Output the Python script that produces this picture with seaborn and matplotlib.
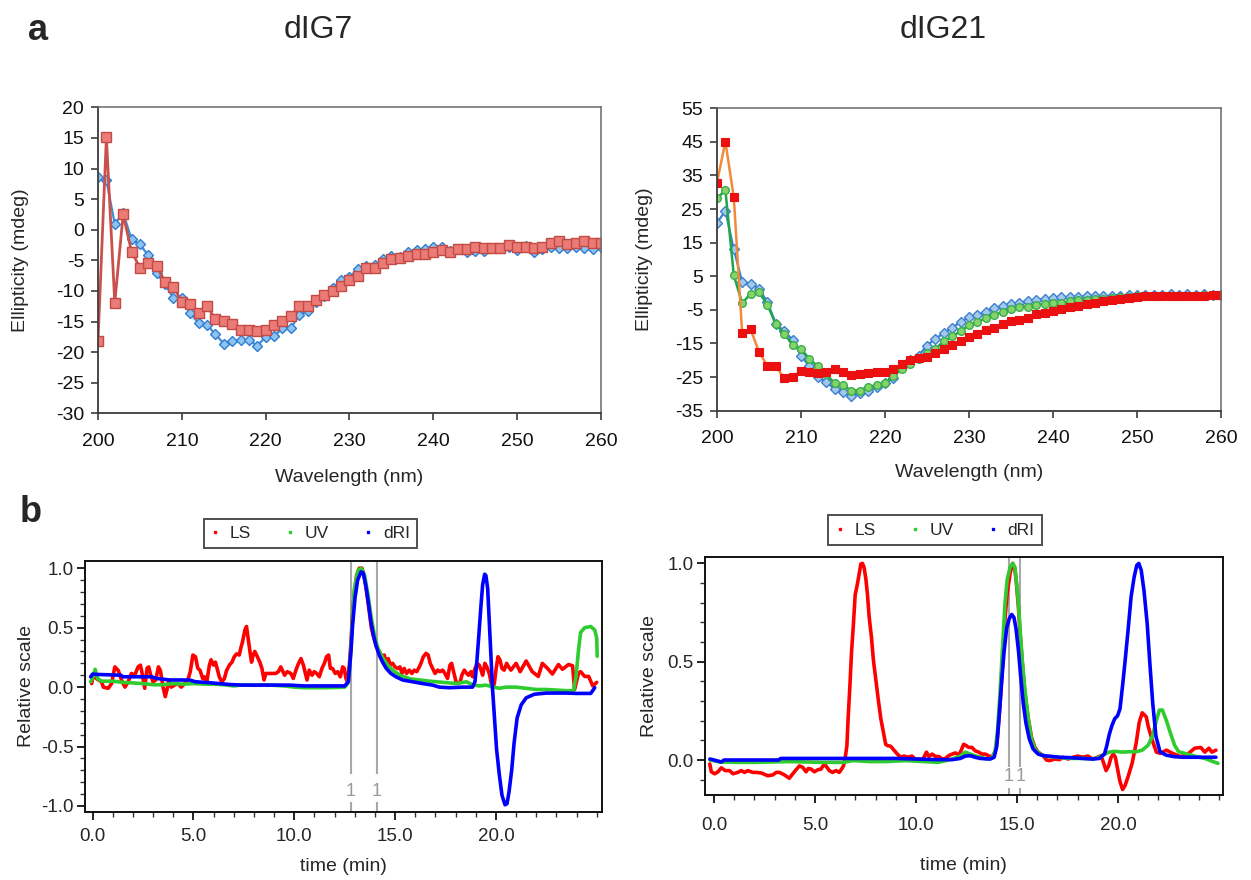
import numpy as np
import pandas as pd
import matplotlib
matplotlib.use("Agg")
import matplotlib.pyplot as plt
from matplotlib.lines import Line2D
from matplotlib.ticker import MultipleLocator, FixedLocator, FormatStrFormatter
import seaborn as sns

sns.set_style("ticks")
plt.rcParams["font.family"] = ["Liberation Sans", "DejaVu Sans"]
plt.rcParams["axes.unicode_minus"] = False
NARROW = ["Liberation Sans Narrow", "Liberation Sans", "DejaVu Sans"]

# ---------------- CD spectra ----------------
wavelength = list(range(200, 261))

dig7_a = [-18.2, 15.1, -11.9, 2.5, -3.6, -6.2, -5.4, -6.0, -8.5, -9.3,
          -11.8, -12.2, -13.6, -12.5, -14.6, -14.9, -15.4, -16.4, -16.4, -16.5,
          -16.4, -15.5, -14.9, -14.1, -12.5, -12.5, -11.5, -10.7, -10.0, -9.2,
          -8.2, -7.6, -6.2, -6.3, -5.5, -4.8, -4.7, -4.3, -4.0, -4.0,
          -3.7, -3.3, -3.6, -3.2, -3.2, -2.8, -3.0, -3.0, -3.0, -2.5,
          -2.8, -2.8, -3.0, -2.8, -2.1, -1.8, -2.4, -2.1, -1.8, -2.1, -2.1]
dig7_b = [8.6, 8.1, 0.9, 2.8, -1.6, -2.4, -4.2, -7.1, -8.9, -11.2,
          -11.1, -13.6, -15.3, -15.5, -17.1, -18.6, -18.2, -18.0, -18.0, -19.0,
          -17.5, -17.4, -16.1, -16.1, -13.9, -13.3, -11.8, -10.9, -9.6, -8.2,
          -7.7, -6.5, -5.9, -5.8, -4.8, -4.3, -4.4, -3.7, -3.3, -3.2,
          -2.9, -2.8, -3.4, -3.2, -3.6, -3.5, -3.4, -3.0, -3.0, -2.8,
          -3.3, -2.7, -3.6, -3.2, -2.8, -3.0, -3.0, -2.9, -3.0, -3.2, -2.8]

dig21_a = [32.9, 45.1, 28.5, -12.0, -10.8, -17.5, -21.7, -21.7, -25.4, -24.9,
           -23.1, -23.4, -23.9, -23.5, -22.6, -23.5, -24.3, -24.2, -23.7, -23.5,
           -23.5, -22.6, -21.2, -19.8, -19.3, -19.1, -17.9, -16.5, -15.4, -14.2,
           -13.2, -12.3, -11.0, -10.3, -9.3, -8.3, -8.0, -7.5, -6.3, -6.0,
           -5.2, -4.8, -4.2, -3.8, -3.2, -2.8, -2.3, -2.0, -1.8, -1.5,
           -1.3, -1.0, -1.0, -0.9, -0.9, -0.8, -0.8, -0.8, -0.8, -0.7, -0.7]
dig21_b = [20.9, 24.5, 13.0, 3.3, 2.8, 1.3, -2.7, -9.1, -11.3, -13.9,
           -18.6, -21.8, -25.0, -26.5, -28.5, -29.5, -30.5, -29.8, -29.0, -28.0,
           -26.8, -25.2, -22.0, -20.0, -18.6, -15.6, -13.6, -11.9, -10.3, -8.6,
           -7.2, -6.5, -5.5, -4.5, -3.8, -3.2, -2.8, -2.5, -2.0, -1.7,
           -1.5, -1.3, -1.2, -1.1, -1.0, -0.9, -0.9, -0.8, -0.8, -0.7,
           -0.7, -0.6, -0.6, -0.5, -0.3, -0.5, -0.4, -0.6, -0.4, -0.5, -0.5]
dig21_c = [28.2, 30.6, 5.3, -3.0, -0.2, 0.2, -3.4, -9.3, -12.1, -15.3,
           -16.6, -19.6, -21.8, -24.2, -26.8, -27.5, -29.0, -29.0, -27.8, -27.5,
           -26.8, -24.8, -22.5, -21.0, -19.6, -17.9, -16.6, -14.3, -12.9, -11.3,
           -9.5, -8.5, -7.5, -6.5, -5.7, -4.8, -4.2, -4.0, -3.5, -3.2,
           -3.0, -2.8, -2.5, -2.2, -2.0, -1.8, -1.7, -1.5, -1.3, -1.2,
           -1.0, -1.0, -0.9, -0.9, -0.8, -0.8, -0.8, -0.8, -0.7, -0.7, -0.7]

# ---------------- SEC-MALS traces: dIG7 ----------------
dig7_ls_t = [-0.05, 0.03, 0.20, 0.44, 0.53, 0.77, 0.94, 1.10, 1.27, 1.43,
             1.60, 1.76, 1.92, 2.09, 2.25, 2.37, 2.47, 2.58, 2.70, 2.78,
             2.88, 2.99, 3.13, 3.26, 3.36, 3.49, 3.60, 3.70, 3.78, 3.90,
             4.06, 4.23, 4.39, 4.56, 4.72, 4.84, 4.97, 5.10, 5.21, 5.33,
             5.46, 5.54, 5.66, 5.79, 5.87, 5.99, 6.09, 6.20, 6.28, 6.40,
             6.53, 6.64, 6.78, 6.91, 7.02, 7.14, 7.27, 7.35, 7.43, 7.55,
             7.63, 7.71, 7.80, 7.88, 7.96, 8.04, 8.17, 8.29, 8.39, 8.50,
             8.59, 8.72, 8.83, 8.95, 9.08, 9.21, 9.33, 9.41, 9.52, 9.65,
             9.83, 9.95, 10.08, 10.21, 10.33, 10.45, 10.55, 10.63, 10.74, 10.88,
             10.99, 11.11, 11.24, 11.37, 11.49, 11.60, 11.70, 11.79, 11.90, 12.03,
             12.15, 12.28, 12.40, 12.48, 12.56, 12.64, 12.73, 12.81, 12.89, 12.98,
             13.09, 13.22, 13.36, 13.47, 13.59, 13.72, 13.83, 13.97, 14.08, 14.21,
             14.35, 14.46, 14.55, 14.66, 14.76, 14.88, 14.99, 15.12, 15.24, 15.34,
             15.45, 15.57, 15.70, 15.83, 15.95, 16.07, 16.20, 16.28, 16.40, 16.53,
             16.64, 16.74, 16.86, 16.98, 17.11, 17.22, 17.36, 17.47, 17.60, 17.72,
             17.80, 17.90, 18.02, 18.13, 18.23, 18.31, 18.43, 18.55, 18.64, 18.76,
             18.84, 18.96, 19.07, 19.17, 19.26, 19.34, 19.45, 19.55, 19.67, 19.75,
             19.83, 19.92, 20.00, 20.10, 20.20, 20.30, 20.41, 20.53, 20.63, 20.74,
             21.0, 21.2, 21.5, 21.8, 22.1, 22.3, 22.6, 22.8, 23.1, 23.3,
             23.6, 23.8, 23.9, 24.1, 24.2, 24.4, 24.6, 24.8, 25.0]
dig7_ls = [0.03, 0.10, 0.07, 0.045, 0.00, -0.01, 0.03, 0.17, 0.14, 0.06,
           0.00, 0.045, 0.115, 0.10, 0.17, 0.185, 0.10, -0.01, 0.16, 0.17,
           0.10, 0.045, 0.06, 0.17, 0.14, 0.00, -0.08, -0.01, 0.06, 0.00,
           0.017, 0.03, 0.00, 0.03, 0.06, 0.13, 0.27, 0.255, 0.16, 0.14,
           0.07, 0.087, 0.045, 0.185, 0.23, 0.185, 0.21, 0.14, 0.087, 0.045,
           0.07, 0.14, 0.185, 0.21, 0.255, 0.28, 0.27, 0.33, 0.38, 0.48,
           0.51, 0.41, 0.30, 0.21, 0.27, 0.30, 0.255, 0.21, 0.16, 0.06,
           0.115, 0.115, 0.115, 0.115, 0.115, 0.13, 0.17, 0.14, 0.10, 0.13,
           0.115, 0.073, 0.143, 0.20, 0.24, 0.185, 0.115, 0.06, 0.143, 0.10,
           0.13, 0.115, 0.087, 0.157, 0.20, 0.256, 0.27, 0.157, 0.157, 0.115,
           0.13, 0.087, 0.17, 0.157, 0.073, 0.045, 0.185, 0.38, 0.61, 0.80,
           0.94, 1.0, 1.0, 0.93, 0.80, 0.63, 0.49, 0.40, 0.34, 0.30,
           0.256, 0.27, 0.21, 0.24, 0.185, 0.20, 0.17, 0.157, 0.17, 0.115,
           0.157, 0.115, 0.143, 0.115, 0.143, 0.13, 0.17, 0.20, 0.256, 0.284,
           0.27, 0.20, 0.157, 0.115, 0.143, 0.13, 0.143, 0.115, 0.073, 0.185,
           0.20, 0.13, 0.045, 0.03, 0.045, 0.10, 0.143, 0.115, 0.10, 0.13,
           0.087, 0.157, 0.20, 0.185, 0.143, 0.10, 0.20, 0.17, 0.115, 0.045,
           -0.01, 0.03, 0.143, 0.256, 0.228, 0.157, 0.143, 0.20, 0.17, 0.143,
           0.20, 0.13, 0.22, 0.13, 0.09, 0.20, 0.15, 0.11, 0.19, 0.15,
           0.19, 0.18, -0.02, 0.12, 0.13, 0.09, 0.09, 0.01, 0.04]

dig7_uv_t = [-0.1, 0.03, 0.12, 0.25, 0.45, 1.0, 1.5, 2.0, 2.5, 3.0,
             3.5, 4.0, 4.5, 5.0, 5.5, 6.0, 6.5, 7.0, 7.5, 8.0,
             8.5, 9.0, 9.5, 10.0, 10.5, 11.0, 11.5, 12.0, 12.5, 12.65,
             12.75, 12.83, 12.98, 13.15, 13.33, 13.49, 13.66, 13.82, 13.99, 14.16,
             14.41, 14.66, 14.90, 15.24, 15.73, 16.22, 16.72, 17.38, 18.04, 18.54,
             18.87, 19.2, 19.5, 19.83, 20.16, 20.5, 21.0, 21.5, 22.0, 22.5,
             23.0, 23.5, 23.85, 23.97, 24.1, 24.2, 24.4, 24.7, 24.9, 25.0, 25.02]
dig7_uv = [0.045, 0.09, 0.15, 0.07, 0.05, 0.05, 0.04, 0.035, 0.03, 0.02,
           0.02, 0.03, 0.025, 0.03, 0.025, 0.025, 0.02, 0.01, 0.02, 0.015,
           0.02, 0.015, 0.01, 0.0, -0.005, -0.005, -0.005, -0.003, 0.0, 0.03,
           0.15, 0.40, 0.83, 0.98, 1.0, 0.94, 0.77, 0.58, 0.42, 0.32,
           0.24, 0.18, 0.14, 0.10, 0.07, 0.06, 0.05, 0.04, 0.03, 0.045,
           0.017, 0.01, 0.017, 0.003, -0.01, 0.0, 0.0, -0.01, -0.02, -0.02,
           -0.025, -0.03, -0.03, 0.09, 0.32, 0.46, 0.50, 0.51, 0.48, 0.41, 0.26]

dig7_ri_t = [-0.1, 0.0, 0.2, 1.4, 1.5, 1.9, 2.9, 3.2, 3.8, 4.8,
             5.1, 5.8, 6.8, 7.4, 8.7, 9.74, 10.5, 11.5, 12.5, 12.68,
             12.81, 12.89, 13.01, 13.14, 13.31, 13.42, 13.55, 13.69, 13.80, 13.92,
             14.05, 14.21, 14.38, 14.55, 14.79, 15.04, 15.37, 15.87, 16.36, 16.86,
             17.19, 17.69, 18.35, 18.84, 18.96, 19.04, 19.14, 19.26, 19.34, 19.44,
             19.50, 19.59, 19.67, 19.75, 19.83, 19.92, 20.03, 20.17, 20.30, 20.45,
             20.55, 20.65, 20.78, 20.9, 21.05, 21.25, 21.5, 21.9, 22.5, 23.5,
             24.0, 24.7, 24.9]
dig7_ri = [0.087, 0.11, 0.107, 0.10, 0.087, 0.087, 0.087, 0.073, 0.06, 0.06,
           0.045, 0.037, 0.022, 0.017, 0.017, 0.017, 0.01, 0.01, 0.01, 0.045,
           0.30, 0.52, 0.75, 0.90, 0.97, 0.96, 0.85, 0.69, 0.55, 0.44,
           0.35, 0.27, 0.21, 0.16, 0.115, 0.087, 0.06, 0.045, 0.03, 0.017,
           0.0, -0.005, 0.0, 0.0, 0.045, 0.185, 0.41, 0.69, 0.86, 0.95,
           0.94, 0.83, 0.55, 0.27, -0.01, -0.24, -0.52, -0.74, -0.91, -0.99,
           -0.98, -0.88, -0.70, -0.47, -0.26, -0.15, -0.09, -0.06, -0.05, -0.05,
           -0.053, -0.053, -0.005]

# ---------------- SEC-MALS traces: dIG21 ----------------
dig21_ls_t = [-0.21, -0.13, 0.03, 0.2, 0.36, 0.56, 0.77, 0.94, 1.18, 1.35,
              1.51, 1.68, 1.92, 2.09, 2.34, 2.66, 2.91, 3.08, 3.24, 3.49,
              3.73, 3.90, 4.06, 4.23, 4.39, 4.56, 4.67, 4.80, 4.97, 5.13,
              5.30, 5.46, 5.59, 5.71, 5.87, 6.04, 6.20, 6.32, 6.41, 6.50,
              6.58, 6.64, 6.73, 6.81, 6.89, 6.99, 7.11, 7.19, 7.27, 7.35,
              7.43, 7.52, 7.60, 7.68, 7.80, 7.89, 8.01, 8.13, 8.26, 8.39,
              8.50, 8.59, 8.75, 8.91, 9.08, 9.24, 9.41, 9.6, 9.8, 9.95,
              10.2, 10.35, 10.52, 10.64, 10.80, 10.97, 11.13, 11.3, 11.46, 11.62,
              11.79, 11.95, 12.11, 12.23, 12.36, 12.49, 12.61, 12.77, 12.93, 13.10,
              13.26, 13.43, 13.59, 13.75, 13.92, 14.03, 14.16, 14.30, 14.41, 14.52,
              14.66, 14.79, 14.90, 14.98, 15.07, 15.15, 15.26, 15.39, 15.56, 15.72,
              15.89, 16.05, 16.30, 16.46, 16.62, 16.87, 17.11, 17.28, 17.52, 17.77,
              18.02, 18.26, 18.51, 18.75, 19.0, 19.16, 19.28, 19.41, 19.54, 19.66,
              19.77, 19.87, 19.98, 20.10, 20.23, 20.35, 20.5, 20.7, 20.9, 21.05,
              21.2, 21.4, 21.5, 21.7, 21.9, 22.1, 22.4, 22.7, 23.1, 23.5,
              23.8, 24.1, 24.3, 24.5, 24.65, 24.85]
dig21_ls = [-0.02, -0.06, -0.07, -0.06, -0.04, -0.054, -0.054, -0.07, -0.063, -0.054,
            -0.063, -0.054, -0.063, -0.063, -0.066, -0.08, -0.076, -0.063, -0.063, -0.076,
            -0.093, -0.07, -0.05, -0.03, -0.037, -0.06, -0.043, -0.046, -0.06, -0.05,
            -0.046, -0.02, -0.037, -0.054, -0.063, -0.054, -0.063, -0.046, -0.03, 0.014,
            0.073, 0.21, 0.38, 0.55, 0.67, 0.84, 0.90, 0.95, 0.997, 1.0,
            0.98, 0.92, 0.84, 0.73, 0.62, 0.51, 0.41, 0.31, 0.21, 0.14,
            0.08, 0.073, 0.07, 0.05, 0.03, 0.014, 0.02, 0.014, 0.02, 0.005,
            0.003, 0.005, 0.04, 0.018, 0.03, 0.018, 0.018, 0.005, 0.008, 0.022,
            0.03, 0.036, 0.025, 0.047, 0.08, 0.073, 0.064, 0.064, 0.047, 0.04,
            0.03, 0.03, 0.022, 0.014, 0.04, 0.11, 0.28, 0.50, 0.72, 0.85,
            0.95, 1.0, 0.97, 0.89, 0.78, 0.65, 0.50, 0.34, 0.21, 0.115,
            0.064, 0.04, 0.022, 0.0, -0.003, 0.005, 0.002, 0.014, 0.005, 0.014,
            0.02, 0.014, 0.02, 0.005, 0.014, 0.022, -0.012, -0.054, -0.03, 0.014,
            0.03, 0.014, -0.046, -0.11, -0.15, -0.13, -0.085, -0.017, 0.085, 0.19,
            0.24, 0.22, 0.17, 0.10, 0.04, 0.034, 0.05, 0.034, 0.017, 0.034,
            0.06, 0.064, 0.04, 0.06, 0.04, 0.05]

dig21_uv_t = [-0.2, 0.3, 1.2, 2.0, 3.7, 5.3, 6.4, 6.9, 7.7, 8.5,
              9.5, 10.4, 11.1, 11.7, 12.2, 12.44, 12.69, 13.0, 13.5, 13.75,
              13.92, 14.03, 14.16, 14.30, 14.41, 14.52, 14.66, 14.79, 14.90, 14.98,
              15.07, 15.15, 15.26, 15.39, 15.56, 15.72, 15.89, 16.13, 16.46, 16.95,
              17.61, 18.26, 18.75, 19.08, 19.33, 19.57, 19.82, 20.07, 20.23, 20.5,
              20.9, 21.2, 21.5, 21.7, 21.9, 22.05, 22.2, 22.4, 22.6, 22.8,
              23.0, 23.3, 23.6, 23.9, 24.3, 24.7, 24.95]
dig21_uv = [0.0, -0.01, -0.012, -0.012, -0.008, -0.012, -0.012, -0.003, -0.008, -0.008,
            -0.003, -0.008, -0.012, 0.002, 0.02, 0.04, 0.03, 0.019, 0.005, 0.008,
            0.047, 0.14, 0.34, 0.60, 0.80, 0.92, 0.98, 1.0, 0.98, 0.90,
            0.80, 0.67, 0.51, 0.36, 0.21, 0.107, 0.056, 0.03, 0.019, 0.014,
            0.008, 0.008, 0.005, 0.014, 0.03, 0.04, 0.044, 0.042, 0.04, 0.042,
            0.042, 0.05, 0.076, 0.12, 0.20, 0.254, 0.254, 0.20, 0.136, 0.076,
            0.042, 0.034, 0.025, 0.017, 0.008, -0.008, -0.017]

dig21_ri_t = [-0.2, 0.0, 0.36, 0.5, 2.0, 3.2, 3.3, 5.0, 7.0, 9.0,
              10.0, 11.0, 11.8, 12.2, 12.44, 12.69, 12.93, 13.18, 13.67, 13.87,
              14.0, 14.13, 14.25, 14.36, 14.49, 14.62, 14.74, 14.85, 14.95, 15.07,
              15.18, 15.31, 15.44, 15.61, 15.80, 16.05, 16.30, 16.62, 17.11, 17.61,
              18.26, 18.75, 19.08, 19.33, 19.44, 19.57, 19.70, 19.84, 19.98, 20.10,
              20.23, 20.34, 20.5, 20.65, 20.8, 20.93, 21.03, 21.15, 21.29, 21.45,
              21.58, 21.72, 21.88, 22.08, 22.38, 22.77, 23.27, 24.06, 24.85]
dig21_ri = [0.005, 0.0, -0.01, 0.0, 0.0, 0.0, 0.008, 0.008, 0.008, 0.008,
            0.005, 0.002, 0.002, 0.008, 0.02, 0.022, 0.014, 0.008, 0.005, 0.014,
            0.07, 0.24, 0.41, 0.55, 0.67, 0.72, 0.74, 0.725, 0.67, 0.56,
            0.43, 0.29, 0.19, 0.107, 0.056, 0.03, 0.022, 0.019, 0.014, 0.012,
            0.008, 0.005, 0.008, 0.03, 0.07, 0.13, 0.175, 0.21, 0.225, 0.26,
            0.38, 0.49, 0.66, 0.83, 0.93, 0.99, 1.0, 0.966, 0.86, 0.69,
            0.49, 0.29, 0.12, 0.042, 0.025, 0.017, 0.014, 0.014, 0.014]

# peak-slice boundaries (min)
dig7_slices = [12.81, 14.10]
dig21_slices = [14.60, 15.17]

detectors = ["LS", "UV", "dRI"]
det_colors = {"LS": "#ff0000", "UV": "#2ecc2e", "dRI": "#0000ff"}
time_ticks = [0, 5, 10, 15, 20]

W, H = 1251, 880
fig = plt.figure(figsize=(W / 100, H / 100), dpi=100)


def px_axes(x0, y0, x1, y1):
    return fig.add_axes([x0 / W, 1 - y1 / H, (x1 - x0) / W, (y1 - y0) / H])


# ================= panel a =================
def style_cd(ax, ylo, yhi, ystep):
    ax.set_xlim(200, 260)
    ax.set_ylim(ylo, yhi)
    ax.xaxis.set_major_locator(MultipleLocator(10))
    ax.yaxis.set_major_locator(MultipleLocator(ystep))
    for s in ["left", "bottom"]:
        ax.spines[s].set_color("#3c3c3c")
        ax.spines[s].set_linewidth(1.3)
    for s in ["top", "right"]:
        ax.spines[s].set_color("#6a6a6a")
        ax.spines[s].set_linewidth(1.1)
    ax.tick_params(axis="both", direction="out", length=5, width=1.2,
                   color="#3c3c3c", labelsize=14, labelcolor="#111111")
    ax.tick_params(axis="x", pad=9)
    ax.tick_params(axis="y", pad=5)
    ax.set_xlabel("Wavelength (nm)", fontsize=14)
    ax.set_ylabel("Ellipticity (mdeg)", fontsize=14)
    ax.xaxis.label.set_va("center")
    ax.yaxis.label.set_va("center")


ax1 = px_axes(98, 107.3, 601, 413.3)
cd7 = pd.DataFrame({"wl": wavelength, "blue": dig7_b, "red": dig7_a})
sns.lineplot(data=cd7, x="wl", y="blue", ax=ax1, color="#3f8bd6", linewidth=1.6,
             marker="D", markersize=5, markerfacecolor="#8cc3f0",
             markeredgecolor="#2f7dd0", markeredgewidth=1.0, estimator=None)
sns.lineplot(data=cd7, x="wl", y="red", ax=ax1, color="#c9504c", linewidth=2.0,
             marker="s", markersize=7, markerfacecolor="#ea7b76",
             markeredgecolor="#c44a46", markeredgewidth=1.0, estimator=None)
style_cd(ax1, -30, 20, 5)
ax1.xaxis.set_label_coords(0.5, -0.211)
ax1.yaxis.set_label_coords(-0.155, 0.5)

ax2 = px_axes(717, 108.3, 1221, 410.7)
cd21 = pd.DataFrame({"wl": wavelength, "blue": dig21_b, "green": dig21_c, "red": dig21_a})
sns.lineplot(data=cd21, x="wl", y="blue", ax=ax2, color="#3b80cf", linewidth=1.6,
             marker="D", markersize=5, markerfacecolor="#a4c8ec",
             markeredgecolor="#3b80cf", markeredgewidth=1.0, estimator=None)
sns.lineplot(data=cd21, x="wl", y="green", ax=ax2, color="#1fa64a", linewidth=1.8,
             marker="o", markersize=5.5, markerfacecolor="#86d36b",
             markeredgecolor="#3aae4c", markeredgewidth=1.0, estimator=None)
sns.lineplot(data=cd21, x="wl", y="red", ax=ax2, color="#f28a3a", linewidth=1.8,
             marker="s", markersize=5.5, markerfacecolor="#ee1010",
             markeredgecolor="#e51010", markeredgewidth=0.8, estimator=None)
style_cd(ax2, -35, 55, 10)
ax2.set_yticks(np.arange(-35, 56, 10))
ax2.xaxis.set_label_coords(0.5, -0.206)
ax2.yaxis.set_label_coords(-0.143, 0.5)

fig.text(318 / W, 1 - 30 / H, "dIG7", fontsize=23, ha="center", va="center")
fig.text(943 / W, 1 - 30 / H, "dIG21", fontsize=23, ha="center", va="center")
fig.text(38 / W, 1 - 40 / H, "a", fontsize=26, fontweight="bold", ha="center", va="baseline")
fig.text(31 / W, 1 - 522 / H, "b", fontsize=26, fontweight="bold", ha="center", va="baseline")


# ================= panel b =================
def style_sec(ax, xlim, ylim, xpad):
    ax.set_xlim(*xlim)
    ax.set_ylim(*ylim)
    ax.xaxis.set_major_locator(FixedLocator(time_ticks))
    ax.xaxis.set_minor_locator(MultipleLocator(1))
    ax.yaxis.set_major_locator(MultipleLocator(0.5))
    ax.yaxis.set_minor_locator(MultipleLocator(0.1))
    ax.xaxis.set_major_formatter(FormatStrFormatter("%.1f"))
    ax.yaxis.set_major_formatter(FormatStrFormatter("%.1f"))
    for s in ax.spines.values():
        s.set_color("#111111")
        s.set_linewidth(1.4)
    ax.tick_params(axis="both", which="major", direction="out", length=6, width=1.3, color="#111111")
    ax.tick_params(axis="both", which="minor", direction="out", length=3.5, width=1.0, color="#333333")
    ax.tick_params(axis="x", which="major", pad=xpad)
    ax.tick_params(axis="y", which="major", pad=2)
    for lab in ax.get_xticklabels() + ax.get_yticklabels():
        lab.set_family(NARROW)
        lab.set_fontsize(13.5)
    ax.set_xlabel("time (min)", fontsize=14)
    ax.set_ylabel("Relative scale", fontsize=14)
    ax.xaxis.label.set_va("center")
    ax.yaxis.label.set_va("center")


def draw_traces(ax, traces):
    for name, (t, v) in zip(detectors, traces):
        sns.lineplot(x=t, y=v, ax=ax, color=det_colors[name], linewidth=2.6,
                     sort=False, estimator=None)


def slice_marks(ax, xs, y_gap_top, y_text, y_gap_bot, ylim):
    for x in xs:
        ax.vlines(x, y_gap_top, ylim[1], color="#a8a8a8", linewidth=1.5, zorder=1)
        ax.vlines(x, ylim[0], y_gap_bot, color="#a8a8a8", linewidth=1.5, zorder=1)
        ax.text(x, y_text, "1", color="#9a9a9a", fontsize=13, ha="center", va="center",
                family=NARROW)


def sec_legend(cx, cy):
    handles = [Line2D([], [], linestyle="none", marker="s", markersize=2.0,
                      color=det_colors[d]) for d in detectors]
    leg = fig.legend(handles, detectors, loc="center", bbox_to_anchor=(cx / W, 1 - cy / H),
                     ncol=3, frameon=True, fancybox=False, handlelength=0.5,
                     handletextpad=0.6, columnspacing=2.0, borderpad=0.4,
                     borderaxespad=0, prop={"family": NARROW, "size": 12.5})
    leg.get_frame().set_edgecolor("#222222")
    leg.get_frame().set_linewidth(1.4)


ylim_b1 = (-1.048, 1.061)
ax3 = px_axes(84.8, 561, 602, 811.7)
slice_marks(ax3, dig7_slices, -0.73, -0.88, -0.97, ylim_b1)
draw_traces(ax3, [(dig7_ls_t, dig7_ls), (dig7_uv_t, dig7_uv), (dig7_ri_t, dig7_ri)])
style_sec(ax3, (-0.39, 25.26), ylim_b1, 6)
ax3.xaxis.set_label_coords(0.5, -0.217)
ax3.yaxis.set_label_coords(-0.112, 0.5)
sec_legend(310.5, 533.5)

ylim_b2 = (-0.178, 1.034)
ax4 = px_axes(704.8, 556.7, 1223, 795)
slice_marks(ax4, dig21_slices, -0.037, -0.085, -0.14, ylim_b2)
draw_traces(ax4, [(dig21_ls_t, dig21_ls), (dig21_uv_t, dig21_uv), (dig21_ri_t, dig21_ri)])
style_sec(ax4, (-0.455, 25.2), ylim_b2, 10)
ax4.xaxis.set_label_coords(0.5, -0.294)
ax4.yaxis.set_label_coords(-0.106, 0.5)
sec_legend(935, 530)

fig.savefig("out.png", dpi=100, facecolor="white")
